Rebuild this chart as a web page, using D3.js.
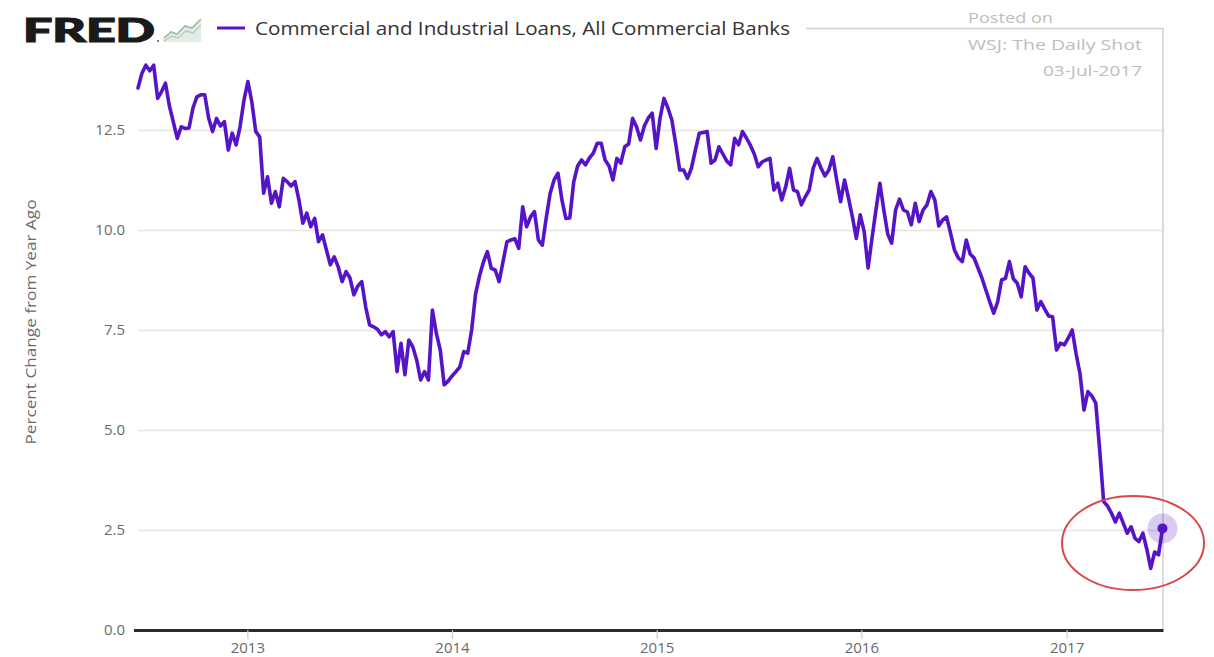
<!DOCTYPE html>
<html>
<head>
<meta charset="utf-8">
<script src="https://cdn.jsdelivr.net/npm/d3@7"></script>
<style>
  html, body { margin: 0; padding: 0; background: #ffffff; }
  svg { display: block; }
</style>
</head>
<body>
<svg id="chart" width="1214" height="657"></svg>
<script>
// Commercial and Industrial Loans, All Commercial Banks — percent change from year ago (weekly)
const seriesName = "Commercial and Industrial Loans, All Commercial Banks";
const firstWeek = "2012-06-20";   // weekly observations, every Wednesday from this date
const values = [
  13.55, 13.92, 14.12, 13.98, 14.12, 13.29, 13.46, 13.67, 13.10, 12.70,
  12.29, 12.58, 12.54, 12.55, 13.05, 13.33, 13.38, 13.38, 12.80, 12.46,
  12.79, 12.60, 12.71, 12.00, 12.42, 12.13, 12.58, 13.25, 13.71, 13.20,
  12.46, 12.33, 10.92, 11.33, 10.67, 10.96, 10.58, 11.29, 11.21, 11.10,
  11.21, 10.75, 10.17, 10.42, 10.08, 10.29, 9.71, 9.88, 9.50, 9.13,
  9.33, 9.08, 8.71, 8.96, 8.80, 8.38, 8.60, 8.71, 8.08, 7.63,
  7.58, 7.52, 7.38, 7.46, 7.33, 7.46, 6.46, 7.17, 6.38, 7.25,
  7.08, 6.75, 6.25, 6.46, 6.25, 8.00, 7.42, 7.00, 6.13, 6.22,
  6.35, 6.46, 6.58, 6.96, 6.92, 7.50, 8.40, 8.85, 9.20, 9.46,
  9.04, 9.00, 8.71, 9.21, 9.71, 9.75, 9.78, 9.54, 10.58, 10.08,
  10.33, 10.46, 9.75, 9.62, 10.30, 10.92, 11.25, 11.42, 10.75, 10.29,
  10.30, 11.20, 11.60, 11.75, 11.63, 11.80, 11.92, 12.17, 12.17, 11.75,
  11.60, 11.25, 11.79, 11.67, 12.08, 12.15, 12.79, 12.58, 12.25, 12.60,
  12.80, 12.92, 12.04, 12.80, 13.29, 13.05, 12.75, 12.15, 11.50, 11.50,
  11.29, 11.55, 12.00, 12.42, 12.44, 12.46, 11.67, 11.75, 12.08, 11.90,
  11.72, 11.63, 12.29, 12.13, 12.46, 12.30, 12.12, 11.90, 11.58, 11.70,
  11.75, 11.79, 11.00, 11.17, 10.75, 11.08, 11.54, 11.00, 10.96, 10.63,
  10.83, 11.00, 11.54, 11.79, 11.55, 11.35, 11.50, 11.83, 11.25, 10.71,
  11.25, 10.80, 10.33, 9.79, 10.38, 9.96, 9.05, 9.80, 10.50, 11.17,
  10.50, 9.90, 9.67, 10.50, 10.77, 10.50, 10.45, 10.13, 10.67, 10.21,
  10.50, 10.63, 10.96, 10.75, 10.10, 10.25, 10.33, 9.92, 9.50, 9.30,
  9.21, 9.75, 9.40, 9.30, 9.05, 8.80, 8.50, 8.20, 7.92, 8.20,
  8.75, 8.79, 9.21, 8.78, 8.67, 8.33, 9.08, 8.92, 8.80, 8.00,
  8.21, 8.02, 7.85, 7.83, 7.00, 7.17, 7.13, 7.30, 7.50, 6.90,
  6.40, 5.50, 5.96, 5.85, 5.67, 4.50, 3.21, 3.10, 2.92, 2.70,
  2.92, 2.67, 2.42, 2.58, 2.29, 2.21, 2.42, 2.02, 1.54, 1.95,
  1.88, 2.54
];
const yTicks = [0, 2.5, 5, 7.5, 10, 12.5];
const yMax = 15.05;
const xTickYears = ["2013", "2014", "2015", "2016", "2017"];
const yTitle = "Percent Change from Year Ago";
const postedLines = ["Posted on", "WSJ: The Daily Shot", "03-Jul-2017"];

const lineColor = "#5514c6";
const svg = d3.select("#chart");
const plot = { left: 138, right: 1162.5, top: 28, bottom: 630 };

const start = d3.utcParse("%Y-%m-%d")(firstWeek);
const data = values.map((v, i) => ({ date: d3.utcDay.offset(start, 7 * i), value: v }));

const x = d3.scaleUtc()
  .domain([data[0].date, data[data.length - 1].date])
  .range([plot.left, plot.right]);
const y = d3.scaleLinear().domain([0, yMax]).range([plot.bottom, plot.top]);

// horizontal grid
svg.append("g").selectAll("line")
  .data(yTicks.filter(t => t > 0))
  .join("line")
  .attr("x1", plot.left).attr("x2", plot.right + 0.5)
  .attr("y1", d => Math.round(y(d)) + 0.5).attr("y2", d => Math.round(y(d)) + 0.5)
  .attr("stroke", "#e3e3e3").attr("stroke-width", 1.5);

// frame: right edge and top edge
svg.append("line")
  .attr("x1", plot.right + 0.5).attr("x2", plot.right + 0.5)
  .attr("y1", plot.top).attr("y2", plot.bottom)
  .attr("stroke", "#d0d0d0").attr("stroke-width", 1.5);
svg.append("line")
  .attr("x1", 806).attr("x2", plot.right + 0.5)
  .attr("y1", plot.top + 0.5).attr("y2", plot.top + 0.5)
  .attr("stroke", "#d0d0d0").attr("stroke-width", 1.5);

// y axis labels
const yAxis = svg.append("g")
  .attr("transform", `translate(${plot.left},0)`)
  .call(d3.axisLeft(y).tickValues(yTicks).tickSize(0).tickPadding(13).tickFormat(d3.format(".1f")));
yAxis.select(".domain").remove();
yAxis.selectAll("text")
  .attr("fill", "#6a6a6a")
  .style("font-family", "'Open Sans', sans-serif")
  .style("font-size", "15px");

// x axis
const xAxis = svg.append("g")
  .attr("transform", `translate(0,${plot.bottom})`)
  .call(d3.axisBottom(x)
    .tickValues(xTickYears.map(s => d3.utcParse("%Y")(s)))
    .tickSize(9).tickSizeOuter(0).tickPadding(3)
    .tickFormat(d3.utcFormat("%Y")));
xAxis.select(".domain")
  .attr("d", `M${plot.left - 4},0.5H${plot.right + 1}`)
  .attr("stroke", "#2b2b2b").attr("stroke-width", 3);
xAxis.selectAll(".tick line").attr("stroke", "#cccccc").attr("stroke-width", 1.2);
xAxis.selectAll("text")
  .attr("fill", "#6a6a6a")
  .style("font-family", "'Open Sans', sans-serif")
  .style("font-size", "15px");

// y title
svg.append("text")
  .attr("transform", `translate(36,322) rotate(-90)`)
  .attr("text-anchor", "middle")
  .attr("fill", "#6a6a6a")
  .attr("textLength", 245)
  .attr("lengthAdjust", "spacingAndGlyphs")
  .style("font-family", "'Open Sans', sans-serif")
  .style("font-size", "14px")
  .text(yTitle);

// series line
svg.append("path")
  .datum(data)
  .attr("fill", "none")
  .attr("stroke", lineColor)
  .attr("stroke-width", 3.6)
  .attr("stroke-linejoin", "round")
  .attr("stroke-linecap", "round")
  .attr("d", d3.line().x(d => x(d.date)).y(d => y(d.value)));

// latest observation marker
const last = data[data.length - 1];
svg.append("circle")
  .attr("cx", x(last.date)).attr("cy", y(last.value)).attr("r", 15)
  .attr("fill", lineColor).attr("fill-opacity", 0.22);
svg.append("circle")
  .attr("cx", x(last.date)).attr("cy", y(last.value)).attr("r", 5)
  .attr("fill", lineColor);

// annotation ellipse around the latest readings
svg.append("ellipse")
  .attr("cx", 1133).attr("cy", 543).attr("rx", 71).attr("ry", 47)
  .attr("fill", "none").attr("stroke", "#d94848").attr("stroke-width", 2);

// header: logo, icon, legend
svg.append("text")
  .attr("x", 23).attr("y", 42)
  .attr("fill", "#1a1a1a")
  .attr("stroke", "#1a1a1a").attr("stroke-width", 1.2)
  .attr("textLength", 132)
  .attr("lengthAdjust", "spacingAndGlyphs")
  .style("font-family", "Lato, Roboto, 'DejaVu Sans', sans-serif")
  .style("font-weight", 900)
  .style("font-size", "32px")
  .text("FRED");
svg.append("circle").attr("cx", 158).attr("cy", 41).attr("r", 1).attr("fill", "#555");

const icon = svg.append("g").attr("transform", "translate(163,17)");
icon.append("path")
  .attr("d", "M0,25 L0,20 L8,15 L14,17 L22,9 L29,11 L38,2 L38,25 Z")
  .attr("fill", "#e2ebe4");
icon.append("path")
  .attr("d", "M1,21 L8,15 L14,17 L22,9 L29,11 L38,2")
  .attr("fill", "none").attr("stroke", "#9dbba5").attr("stroke-width", 1.6);
icon.append("path")
  .attr("d", "M1,24 L9,19 L15,21 L23,14 L30,16 L38,8")
  .attr("fill", "none").attr("stroke", "#b9ccbd").attr("stroke-width", 1.4);

svg.append("line")
  .attr("x1", 217).attr("x2", 245).attr("y1", 28).attr("y2", 28)
  .attr("stroke", lineColor).attr("stroke-width", 3);
svg.append("text")
  .attr("x", 255).attr("y", 35)
  .attr("fill", "#333333")
  .attr("textLength", 535)
  .attr("lengthAdjust", "spacingAndGlyphs")
  .style("font-family", "'Open Sans', sans-serif")
  .style("font-size", "18px")
  .text(seriesName);

// posting note
const noteY = [23, 50, 76];
const noteWidth = [85, 174, 99];
svg.append("g").selectAll("text")
  .data(postedLines)
  .join("text")
  .attr("x", (d, i) => i === 0 ? 968 : 1142 - noteWidth[i])
  .attr("y", (d, i) => noteY[i])
  .attr("textLength", (d, i) => noteWidth[i])
  .attr("lengthAdjust", "spacingAndGlyphs")
  .attr("fill", "#bdbdbd")
  .style("font-family", "'Open Sans', sans-serif")
  .style("font-size", "14px")
  .text(d => d);
</script>
</body>
</html>
